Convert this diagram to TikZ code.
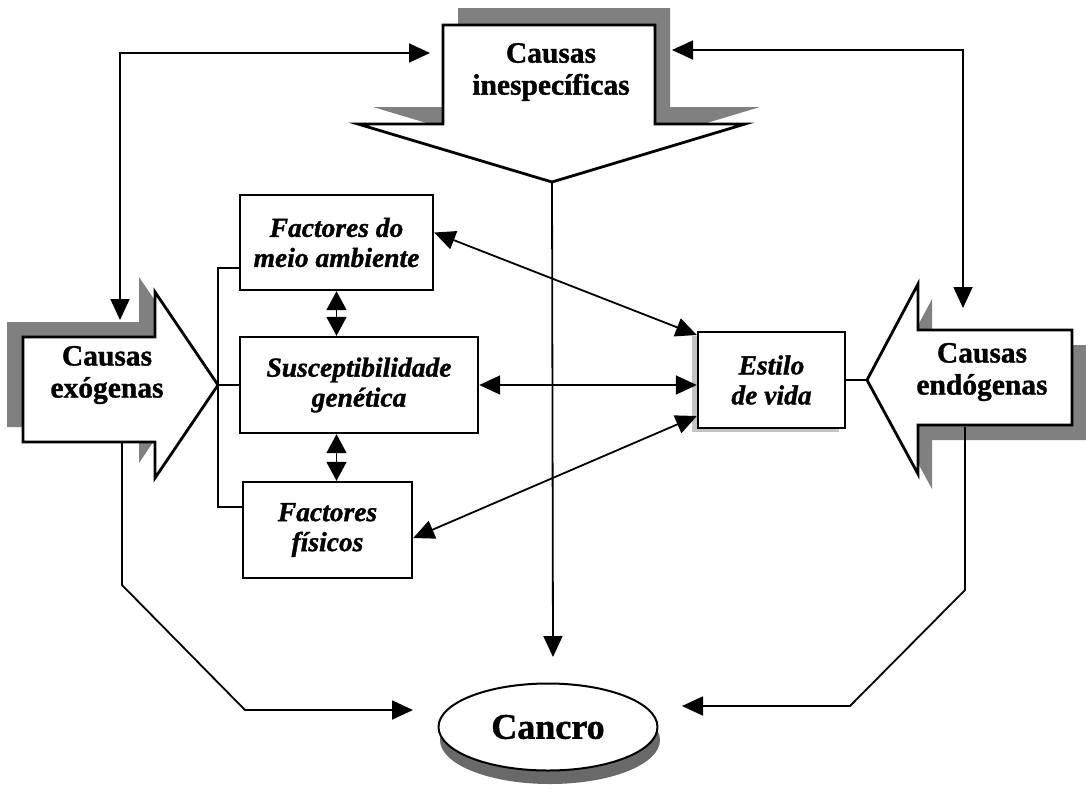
\documentclass[tikz,border=0pt]{standalone}
\usepackage{fontspec}
\setmainfont{Liberation Serif}[BoldFeatures={FakeBold=1.2},BoldItalicFeatures={FakeBold=1.2}]
\usetikzlibrary{arrows.meta,shapes.geometric,shadows}

\definecolor{shade}{RGB}{128,128,128}
\definecolor{lightshade}{RGB}{195,195,195}
\definecolor{discshade}{RGB}{105,105,105}

\begin{document}
\begin{tikzpicture}[x=1pt,y=-1pt,
  outline/.style={draw=black,line width=2.8pt,fill=white,line join=miter},
  shadowfill/.style={fill=shade},
  factorbox/.style={draw=black,line width=2.4pt,fill=white,rectangle,inner sep=0pt,
    align=center,font=\fontsize{27.5}{30}\selectfont\bfseries\itshape},
  bigtext/.style={align=center,inner sep=0pt,font=\fontsize{29.5}{32}\selectfont\bfseries},
  link/.style={line width=1.8pt},
  tip/.style={link,-{Triangle[length=21pt,width=19pt]}},
  dtips/.style={link,{Triangle[length=21pt,width=19pt]}-{Triangle[length=21pt,width=19pt]}},
  stack/.style={link,{Triangle[length=19pt,width=20pt]}-{Triangle[length=19pt,width=20pt]}},
]
\useasboundingbox (0,0) rectangle (1086,796);

% --- "Causas inespecificas": block arrow pointing down ---
\fill[shadowfill,shift={(15,-17)}]
  (443,25) -- (655,25) -- (655,124) -- (745,124) -- (552,182) -- (358,124) -- (443,124) -- cycle;
\draw[outline]
  (443,25) -- (655,25) -- (655,124) -- (745,124) -- (552,182) -- (358,124) -- (443,124) -- cycle;
\coordinate (inespTip) at (552,182);
\node[bigtext] (inesp) at (551,72) {Causas\\inespecíficas};

% --- "Causas exogenas": block arrow pointing right ---
\fill[shadowfill,shift={(-16,-15)}]
  (23,337) -- (155,337) -- (155,292) -- (218,385) -- (155,478) -- (155,442) -- (23,442) -- cycle;
\draw[outline]
  (23,337) -- (155,337) -- (155,292) -- (218,385) -- (155,478) -- (155,442) -- (23,442) -- cycle;
\coordinate (exoTip) at (218,385);
\node[bigtext] (exo) at (107,375) {Causas\\exógenas};

% --- "Causas endogenas": block arrow pointing left ---
\fill[shadowfill,shift={(14,15)}]
  (1072,330) -- (918,330) -- (918,284) -- (867,380) -- (918,474) -- (918,425) -- (1072,425) -- cycle;
\draw[outline]
  (1072,330) -- (918,330) -- (918,284) -- (867,380) -- (918,474) -- (918,425) -- (1072,425) -- cycle;
\coordinate (endoTip) at (867,380);
\node[bigtext] (endo) at (982,372) {Causas\\endógenas};

% --- factor boxes ---
\node[factorbox,minimum width=193pt,minimum height=95pt] (fma) at (336.5,242.5) {Factores do\\meio ambiente};
\node[factorbox,minimum width=238pt,minimum height=96pt] (sus) at (359,385) {Susceptibilidade\\genética};
\node[factorbox,minimum width=169pt,minimum height=96pt] (fis) at (327.5,530) {Factores\\físicos};
\node[factorbox,minimum width=147pt,minimum height=96pt,
  drop shadow={shadow xshift=-6pt,shadow yshift=-4pt,fill=lightshade,opacity=1}]
  (estilo) at (771.5,380) {Estilo\\de vida};

% --- outcome disc ---
\fill[discshade] (550,740) ellipse [x radius=110, y radius=44];
\node[ellipse,draw=black,line width=2pt,fill=white,minimum width=219pt,minimum height=87pt,
  inner sep=0pt,font=\fontsize{36}{40}\selectfont\bfseries] (cancro) at (548,727) {Cancro};

% --- bracket joining the exogenous arrow to the three factors ---
\coordinate (brTop) at (218,268);
\coordinate (brBot) at (218,507);
\draw[link] (fma.west |- brTop) -- (brTop) -- (brBot) -- (fis.west |- brBot);
\draw[link] (exoTip) -- (sus.west);

% --- links between the factors ---
\draw[stack] (fma.south) -- (fma.south |- sus.north);
\draw[stack] (fma.south |- sus.south) -- (fma.south |- fis.north);

% --- links to lifestyle ---
\draw[dtips] ([yshift=10pt]fma.east) -- ([yshift=45pt]estilo.west);
\draw[dtips] (sus.east) -- (sus.east -| estilo.west);
\draw[dtips] ([yshift=-8pt]fis.east) -- ([yshift=-36pt]estilo.west);
\draw[link] (estilo.east) -- (endoTip);

% --- flows towards cancer ---
\coordinate (cancroTop) at (553,657);
\coordinate (cancroLeft) at (413,710);
\coordinate (cancroRight) at (682,706);
\coordinate (exoFoot) at (122,443);
\coordinate (endoFoot) at (965,427);
\draw[tip] (inespTip) -- (cancroTop);
\draw[tip] (exoFoot) -- (122,585) -- (245,710) -- (cancroLeft);
\draw[tip] (endoFoot) -- (965,590) -- (850,706) -- (cancroRight);

% --- links from the unspecific causes to both sides ---
\coordinate (exoTop) at (120,320);
\coordinate (inespLeft) at (430,53);
\coordinate (inespRight) at (672,50);
\coordinate (endoTop) at (963,308);
\draw[dtips] (exoTop) -- (120,53) -- (inespLeft);
\draw[dtips] (inespRight) -- (963,50) -- (endoTop);
\end{tikzpicture}
\end{document}
